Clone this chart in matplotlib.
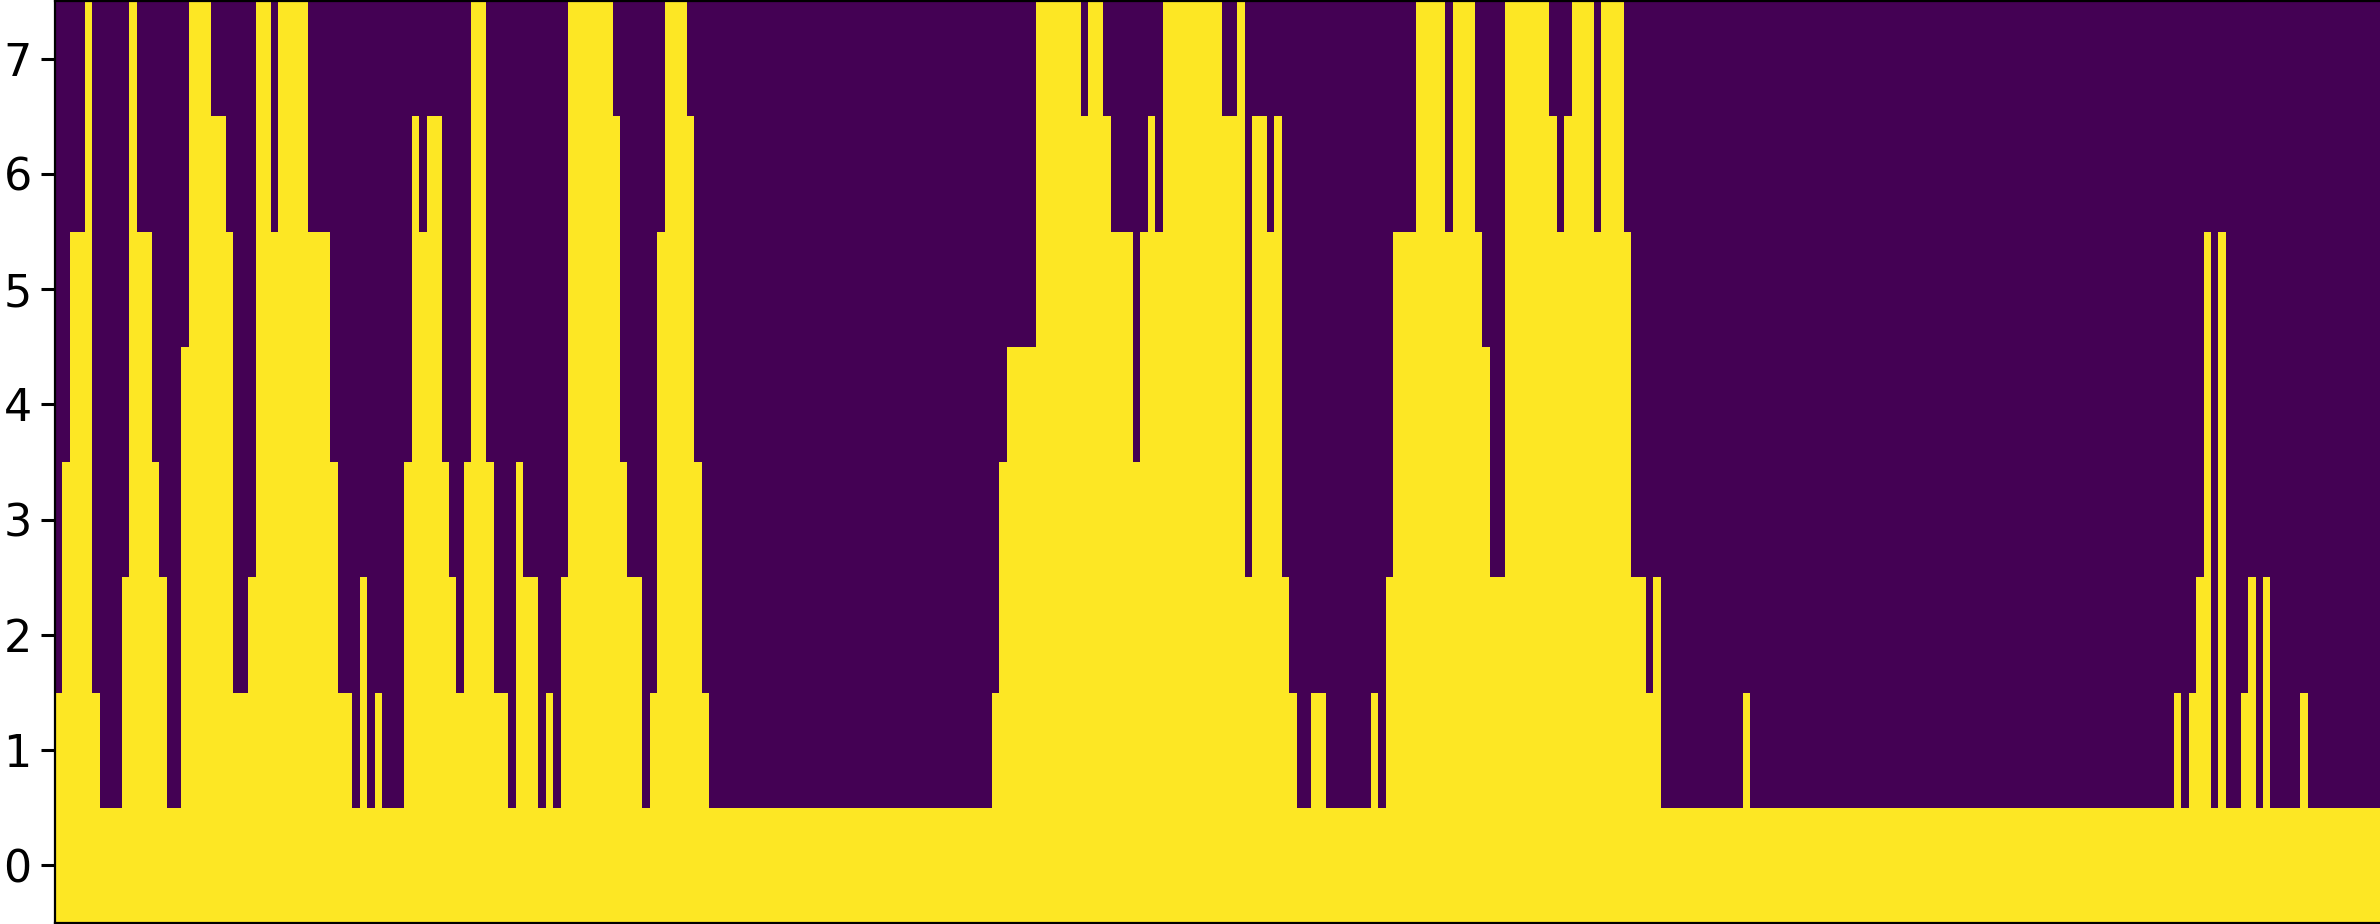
import matplotlib
matplotlib.use("Agg")
import matplotlib.pyplot as plt
import numpy as np

# number of filled cells (from the bottom row up) in each column
heights = [
    2, 4, 6, 6, 8, 2, 1, 1, 1, 3, 8, 6, 6, 4, 3, 1, 1, 5, 8, 8,
    8, 7, 7, 6, 2, 2, 3, 8, 8, 6, 8, 8, 8, 8, 6, 6, 6, 4, 2, 2,
    1, 3, 1, 2, 1, 1, 1, 4, 7, 6, 7, 7, 4, 3, 2, 4, 8, 8, 4, 2,
    2, 1, 4, 3, 3, 1, 2, 1, 3, 8, 8, 8, 8, 8, 8, 7, 4, 3, 3, 1,
    2, 6, 8, 8, 8, 7, 4, 2, 1, 1, 1, 1, 1, 1, 1, 1, 1, 1, 1, 1,
    1, 1, 1, 1, 1, 1, 1, 1, 1, 1, 1, 1, 1, 1, 1, 1, 1, 1, 1, 1,
    1, 1, 1, 1, 1, 1, 2, 4, 5, 5, 5, 5, 8, 8, 8, 8, 8, 8, 7, 8,
    8, 7, 6, 6, 6, 4, 6, 7, 6, 8, 8, 8, 8, 8, 8, 8, 8, 7, 7, 8,
    3, 7, 7, 6, 7, 3, 2, 1, 1, 2, 2, 1, 1, 1, 1, 1, 1, 2, 1, 3,
    6, 6, 6, 8, 8, 8, 8, 6, 8, 8, 8, 6, 5, 3, 3, 8, 8, 8, 8, 8,
    8, 7, 6, 7, 8, 8, 8, 6, 8, 8, 8, 6, 3, 3, 2, 3, 1, 1, 1, 1,
    1, 1, 1, 1, 1, 1, 1, 2, 1, 1, 1, 1, 1, 1, 1, 1, 1, 1, 1, 1,
    1, 1, 1, 1, 1, 1, 1, 1, 1, 1, 1, 1, 1, 1, 1, 1, 1, 1, 1, 1,
    1, 1, 1, 1, 1, 1, 1, 1, 1, 1, 1, 1, 1, 1, 1, 1, 1, 1, 1, 1,
    1, 1, 1, 1, 1, 2, 1, 2, 3, 6, 1, 6, 1, 1, 2, 3, 1, 3, 1, 1,
    1, 1, 2, 1, 1, 1, 1, 1, 1, 1, 1, 1, 1,
]
n_rows = 8

heights = np.array(heights)
rows = np.arange(n_rows)
grid = (rows[:, None] < heights[None, :]).astype(int)

fig = plt.figure(figsize=(11.9, 4.62), dpi=200)
ax = fig.add_axes([0.0233, 0.0011, 0.9775, 0.9978])
ax.imshow(grid, cmap='viridis', origin='lower', aspect='auto',
          interpolation='nearest')
ax.set_xticks([])
ax.set_yticks(rows)
ax.tick_params(axis='y', labelsize=16, length=5, width=1.1, pad=3.5)

fig.savefig('out.png', dpi=200)
